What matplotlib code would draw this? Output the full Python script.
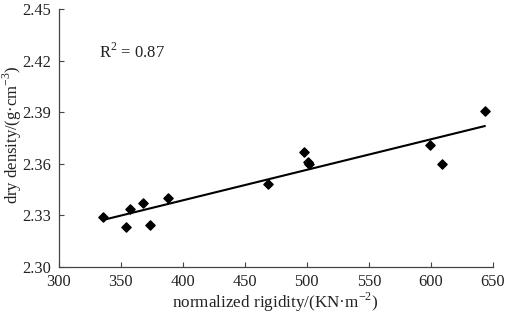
import matplotlib
matplotlib.use("Agg")
import matplotlib.pyplot as plt
import numpy as np

rigidity = [336.2, 354.1, 357.7, 368.1, 373.7, 387.9, 468.7, 497.9, 501.2, 502.0, 599.3, 608.7, 643.8]
density = [2.3292, 2.3229, 2.3337, 2.3370, 2.3240, 2.3397, 2.3481, 2.3667, 2.3612, 2.3595, 2.3709, 2.3599, 2.3909]
fit_x = [336.4, 644.1]
fit_y = [2.3273, 2.3820]
xticks = [300, 350, 400, 450, 500, 550, 600, 650]
yticks = [2.30, 2.33, 2.36, 2.39, 2.42, 2.45]

plt.rcParams['font.family'] = ['Liberation Serif', 'DejaVu Serif']
plt.rcParams['mathtext.fontset'] = 'custom'
plt.rcParams['mathtext.rm'] = 'Liberation Serif'

W, H = 507, 324
fig = plt.figure(figsize=(W / 100, H / 100), dpi=100)
ax = fig.add_axes([58.5/W, (H-266.7)/H, (493-58.5)/W, (266.7-9)/H])

ax.plot(fit_x, fit_y, color='black', lw=1.5, solid_capstyle='butt')
ax.scatter(rigidity, density, marker='D', s=22, color='black', zorder=3)

ax.set_xlim(300, 650)
ax.set_ylim(2.30, 2.45)
ax.set_xticks(xticks)
ax.set_yticks(yticks)
ax.set_yticklabels([f"{v:.2f}" for v in yticks])
ax.tick_params(direction='in', length=3.5, width=0.8, colors='#444444', labelsize=11.8, labelcolor='#222222')
ax.tick_params(axis='x', pad=5)
ax.tick_params(axis='y', pad=5.5)
for s in ['top', 'right']:
    ax.spines[s].set_visible(False)
for s in ['left', 'bottom']:
    ax.spines[s].set_color('#444444')
    ax.spines[s].set_linewidth(0.9)

fig.text(275/W, 1 - 302/H, 'normalized rigidity/(KN·m$^{-2}$)', fontsize=12.3, color='#222222',
         ha='center', va='center')
fig.text(12/W, 1 - 135/H, 'dry density/(g·cm$^{-3}$)', fontsize=12, color='#222222',
         ha='center', va='center', rotation=90)
ax.text(333, 2.425, 'R$^{2}$ = 0.87', fontsize=12, color='#222222', va='center', ha='left')

fig.savefig('out.png', dpi=100)
